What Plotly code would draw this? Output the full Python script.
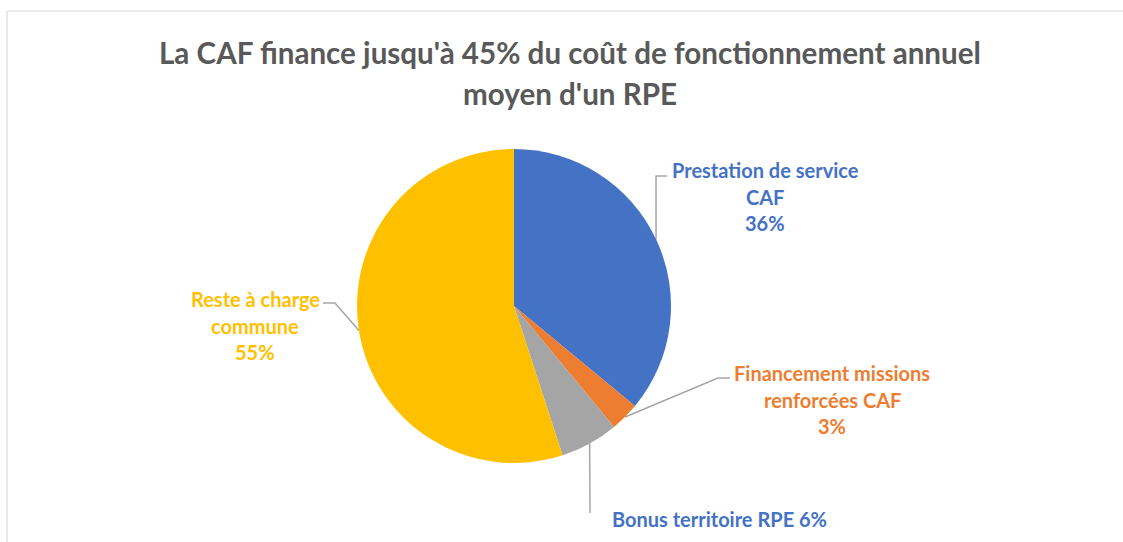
import math
import plotly.graph_objects as go

# ---- data ----
categories = ["Prestation de service CAF", "Financement missions renforcées CAF",
              "Bonus territoire RPE", "Reste à charge commune"]
values = [36, 3, 6, 55]
slice_colors = ["#4472C4", "#ED7D31", "#A5A5A5", "#FFC000"]
label_lines = [["Prestation de service", "CAF"],
               ["Financement missions", "renforcées CAF"],
               ["Bonus territoire RPE"],
               ["Reste à charge", "commune"]]
label_colors = ["#4472C4", "#ED7D31", "#4472C4", "#FFC000"]
title_lines = ["La CAF finance jusqu'à 45% du coût de fonctionnement annuel",
               "moyen d'un RPE"]

# ---- layout constants (pixels) ----
W, H = 1123, 542
CX, CY, R = 514, 306, 157
FONT = "Lato"
# label text centre (x, first line y), percentage joined on last line?
label_pos = [(765, 170, False), (832, 373, False), (719, 519, True), (255, 299, False)]
# leader line: elbow and end points
leader_pts = [[(656, 176), (667, 176)],
              [(718, 378), (730, 378)],
              [(590, 513)],
              [(335, 303), (323, 303)]]
LINE_H = 26.5

fig = go.Figure()

# hidden pixel axes for lines and labels
fig.add_trace(go.Scatter(x=[], y=[], showlegend=False, hoverinfo="skip"))

total = sum(values)
cum = 0
for i, v in enumerate(values):
    theta = 2 * math.pi * (cum + v / 2) / total
    cum += v
    ax = CX + R * math.sin(theta)
    ay = CY - R * math.cos(theta)
    pts = [(ax, ay)] + leader_pts[i]
    fig.add_trace(go.Scatter(x=[p[0] for p in pts], y=[p[1] for p in pts], mode="lines",
                             line=dict(color="#A6A6A6", width=1.5),
                             showlegend=False, hoverinfo="skip"))

fig.add_trace(go.Pie(
    labels=categories, values=values, sort=False, direction="clockwise", rotation=0,
    marker=dict(colors=slice_colors, line=dict(width=0)),
    textinfo="none", hoverinfo="label+percent", showlegend=False,
    domain=dict(x=[(CX - R) / W, (CX + R) / W], y=[1 - (CY + R) / H, 1 - (CY - R) / H]),
))

annotations = []
for i, v in enumerate(values):
    lx, ly, joined = label_pos[i]
    pct = f"{round(100 * v / total)}%"
    lines = list(label_lines[i])
    if joined:
        lines[-1] = lines[-1] + " " + pct
    else:
        lines.append(pct)
    for k, t in enumerate(lines):
        annotations.append(dict(x=lx, y=ly + k * LINE_H, xref="x", yref="y", text=t,
                                showarrow=False, xanchor="center", yanchor="middle",
                                font=dict(family=FONT, size=20, color=label_colors[i],
                                          weight="bold")))
title_y = [52, 93]
for k, t in enumerate(title_lines):
    annotations.append(dict(x=570, y=title_y[k], xref="x", yref="y", text=t, showarrow=False,
                            xanchor="center", yanchor="middle",
                            font=dict(family=FONT, size=29.6, color="#595959", weight="bold")))

fig.update_layout(
    width=W, height=H, margin=dict(l=0, r=0, t=0, b=0),
    paper_bgcolor="white", plot_bgcolor="white",
    xaxis=dict(range=[0, W], visible=False, fixedrange=True, domain=[0, 1]),
    yaxis=dict(range=[H, 0], visible=False, fixedrange=True, domain=[0, 1]),
    annotations=annotations,
    shapes=[dict(type="line", xref="x", yref="y", x0=7, y0=11, x1=W, y1=11,
                 line=dict(color="#D9D9D9", width=1.2)),
            dict(type="line", xref="x", yref="y", x0=7, y0=11, x1=7, y1=H,
                 line=dict(color="#D9D9D9", width=1.2))],
)

fig.write_html("out.html", config={"displayModeBar": False},
               post_script="document.body.style.margin='0px';")
